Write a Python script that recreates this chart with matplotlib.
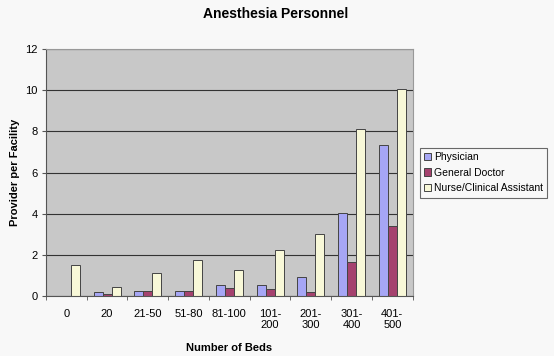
import numpy as np
import matplotlib.pyplot as plt

plt.rcParams['font.family'] = ['Liberation Sans', 'DejaVu Sans']

categories = ['0', '20', '21-50', '51-80', '81-100', '101-\n200', '201-\n300', '301-\n400', '401-\n500']
physician = [0, 0.2, 0.24, 0.23, 0.54, 0.54, 0.94, 4.02, 7.35]
general_doctor = [0, 0.13, 0.24, 0.24, 0.42, 0.34, 0.21, 1.64, 3.4]
nurse = [1.5, 0.47, 1.15, 1.77, 1.27, 2.24, 3.02, 8.13, 10.08]

fig = plt.figure(figsize=(5.54, 3.56), dpi=100)
fig.patch.set_facecolor('#f8f8f8')
ax = fig.add_axes([0.083, 0.168, 0.662, 0.694])
ax.set_facecolor('#c8c8c8')

x = np.arange(len(categories))
w = 0.22
ax.bar(x - w, physician, w, color='#a6a6f5', edgecolor='#444444', linewidth=0.7, label='Physician')
ax.bar(x, general_doctor, w, color='#a5426e', edgecolor='#444444', linewidth=0.7, label='General Doctor')
ax.bar(x + w, nurse, w, color='#f8f8d8', edgecolor='#444444', linewidth=0.7, label='Nurse/Clinical Assistant')

ax.set_ylim(0, 12)
ax.set_xlim(-0.5, len(categories) - 0.5)
ax.set_yticks(range(0, 13, 2))
ax.yaxis.grid(True, color='#333333', linewidth=0.8)
ax.set_axisbelow(True)
ax.set_xticks(x)
ax.set_xticklabels(categories, fontsize=8)
ax.set_xticks(np.arange(-0.5, len(categories), 1), minor=True)
ax.tick_params(axis='x', which='major', length=0, pad=9)
ax.tick_params(axis='x', which='minor', length=3, color='#555555')
ax.tick_params(axis='y', labelsize=8, length=3, color='#555555', pad=3)
for s in ['top', 'right']:
    ax.spines[s].set_color('#999999')
for s in ['left', 'bottom']:
    ax.spines[s].set_color('#555555')

fig.text(0.498, 1 - 14 / 356, 'Anesthesia Personnel', fontsize=10, fontweight='bold',
         ha='center', va='center')
ax.set_xlabel('Number of Beds', fontsize=8, fontweight='bold', labelpad=9)
ax.set_ylabel('Provider per Facility', fontsize=8, fontweight='bold', labelpad=4)

leg = ax.legend(loc='center left', bbox_to_anchor=(1.01, 0.5), fontsize=7.5, frameon=True,
                fancybox=False, edgecolor='#444444', facecolor='#f8f8f8',
                handlelength=0.7, handleheight=0.7, handletextpad=0.3, borderpad=0.4,
                borderaxespad=0.3, labelspacing=0.55)
leg.get_frame().set_linewidth(0.8)

fig.savefig('out.png', dpi=100, facecolor=fig.get_facecolor())
